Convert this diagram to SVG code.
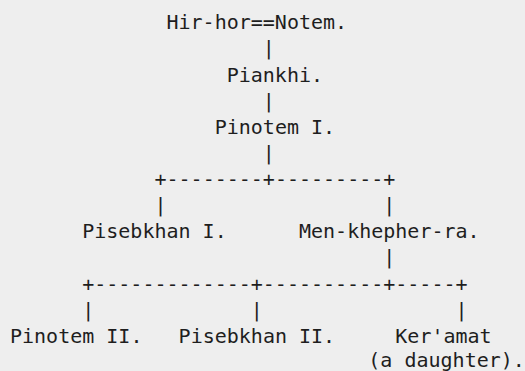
<svg xmlns="http://www.w3.org/2000/svg" width="525" height="371" viewBox="0 0 525 371">
<style>
text { font-family: "DejaVu Sans Mono", "Liberation Mono", monospace; font-size: 20px; fill: #1e1e1e; white-space: pre; }
</style>
<rect width="525" height="371" fill="#eeeeee"/>
<g id="connectors">
<text x="262.8" y="55.4">|</text>
<text x="262.8" y="107.7">|</text>
<text x="262.8" y="159.9">|</text>
<text x="154.5" y="186">+--------+---------+</text>
<text x="154.5" y="212.1">|</text>
<text x="383.2" y="212.1">|</text>
<text x="383.2" y="264.4">|</text>
<text x="82.2" y="290.5">+-------------+----------+-----+</text>
<text x="82.2" y="316.6">|</text>
<text x="250.8" y="316.6">|</text>
<text x="455.5" y="316.6">|</text>
</g>
<g id="hirhor-notem"><text x="166.5" y="29.3">Hir-hor==Notem.</text></g>
<g id="piankhi"><text x="226.7" y="81.5">Piankhi.</text></g>
<g id="pinotem-1"><text x="214.7" y="133.8">Pinotem I.</text></g>
<g id="pisebkhan-1"><text x="82.2" y="238.3">Pisebkhan I.</text></g>
<g id="men-khepher-ra"><text x="299" y="238.3">Men-khepher-ra.</text></g>
<g id="pinotem-2"><text x="10" y="342.7">Pinotem II.</text></g>
<g id="pisebkhan-2"><text x="178.6" y="342.7">Pisebkhan II.</text></g>
<g id="keramat"><text x="395.3" y="342.7">Ker'amat</text><text x="368.3" y="366.5">(a daughter).</text></g>
</svg>
